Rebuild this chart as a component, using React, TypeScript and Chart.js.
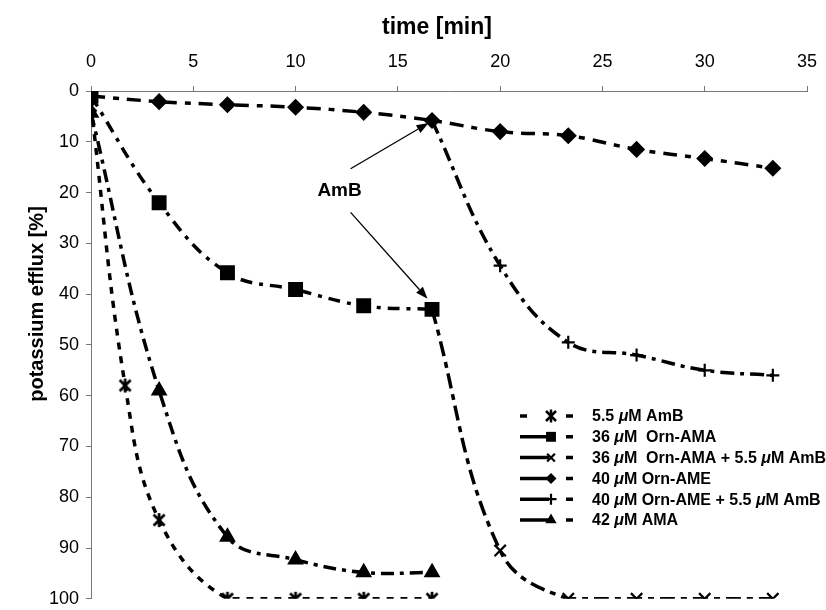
import React, { useEffect, useRef } from "react";
import { Chart, registerables } from "chart.js";

Chart.register(...registerables);

// ---------- data ----------
const xTitle = "time [min]";
const yTitle = "potassium efflux [%]";
const xTickValues = [0, 5, 10, 15, 20, 25, 30, 35];
const yTickValues = [0, 10, 20, 30, 40, 50, 60, 70, 80, 90, 100];

const seriesNames = [
  "5.5 μM AmB",
  "36 μM  Orn-AMA",
  "36 μM  Orn-AMA + 5.5 μM AmB",
  "40 μM Orn-AME",
  "40 μM Orn-AME + 5.5 μM AmB",
  "42 μM AMA",
];

const tAmB = [0, 1.67, 3.33, 6.67, 10, 13.33, 16.67];
const vAmB = [3, 58, 84.5, 100, 100, 100, 100];

const tOrnAMA = [0, 3.33, 6.67, 10, 13.33, 16.67];
const vOrnAMA = [1, 22, 35.8, 39.1, 42.3, 43];

const tOrnAMAAmB = [16.67, 20, 23.33, 26.67, 30, 33.33];
const vOrnAMAAmB = [43, 90.5, 100, 100, 100, 100];

const tOrnAME = [0, 3.33, 6.67, 10, 13.33, 16.67, 20, 23.33, 26.67, 30, 33.33];
const vOrnAME = [1, 2.1, 2.7, 3.2, 4.2, 5.8, 8, 8.8, 11.5, 13.3, 15.2];

const tOrnAMEAmB = [16.67, 20, 23.33, 26.67, 30, 33.33];
const vOrnAMEAmB = [5.8, 34.4, 49.5, 52, 55, 56];

const tAMA = [0, 3.33, 6.67, 10, 13.33, 16.67];
const vAMA = [4.3, 59, 87.8, 92.3, 94.8, 94.8];

// annotation: label "AmB" with two arrows (data coordinates)
const annotationText = "AmB";
const annotationLabel = { x: 12.15, y: 19.6 };
const annotationArrows = [
  { x1: 12.69, y1: 15.3, x2: 16.5, y2: 6.3 },
  { x1: 12.69, y1: 23.9, x2: 16.45, y2: 40.9 },
];

// ---------- styling ----------
const FONT = '"Liberation Sans", Arial, Helvetica, sans-serif';
const dashes = [
  [7, 7],
  [12, 7, 4, 7],
  [15, 6, 6, 6],
  [14, 8, 6, 8],
  [14, 6, 4, 6],
  [13, 6, 4, 6],
];
const markers = ["asterisk", "rect", "crossRot", "rectRot", "cross", "triangle"];
const markerRadius = [7, 9, 8, 7, 6.5, 7.5];

function makeAsterisk(): HTMLCanvasElement {
  const c = document.createElement("canvas");
  c.width = 16;
  c.height = 16;
  const g = c.getContext("2d")!;
  g.strokeStyle = "#000";
  g.lineWidth = 2.7;
  g.beginPath();
  g.moveTo(2.5, 2.5);
  g.lineTo(13.5, 13.5);
  g.moveTo(13.5, 2.5);
  g.lineTo(2.5, 13.5);
  g.moveTo(8, 1);
  g.lineTo(8, 15);
  g.stroke();
  return c;
}

function drawMarker(ctx: CanvasRenderingContext2D, style: string, x: number, y: number, r: number) {
  ctx.save();
  ctx.fillStyle = "#000";
  ctx.strokeStyle = "#000";
  ctx.lineWidth = 2.2;
  ctx.setLineDash([]);
  ctx.beginPath();
  if (style === "rect") {
    const s = r * Math.SQRT1_2;
    ctx.rect(x - s, y - s, 2 * s, 2 * s);
    ctx.fill();
  } else if (style === "rectRot") {
    ctx.moveTo(x, y - r);
    ctx.lineTo(x + r, y);
    ctx.lineTo(x, y + r);
    ctx.lineTo(x - r, y);
    ctx.closePath();
    ctx.fill();
  } else if (style === "triangle") {
    ctx.moveTo(x, y - r);
    ctx.lineTo(x + r * 0.866, y + r * 0.5);
    ctx.lineTo(x - r * 0.866, y + r * 0.5);
    ctx.closePath();
    ctx.fill();
  } else if (style === "cross") {
    ctx.moveTo(x - r, y);
    ctx.lineTo(x + r, y);
    ctx.moveTo(x, y - r);
    ctx.lineTo(x, y + r);
    ctx.stroke();
  } else if (style === "crossRot") {
    const s = r * Math.SQRT1_2;
    ctx.moveTo(x - s, y - s);
    ctx.lineTo(x + s, y + s);
    ctx.moveTo(x + s, y - s);
    ctx.lineTo(x - s, y + s);
    ctx.stroke();
  } else if (style === "asterisk") {
    ctx.lineWidth = 2.5;
    ctx.moveTo(x - 5, y - 5);
    ctx.lineTo(x + 5, y + 5);
    ctx.moveTo(x + 5, y - 5);
    ctx.lineTo(x - 5, y + 5);
    ctx.moveTo(x, y - 6.5);
    ctx.lineTo(x, y + 6.5);
    ctx.stroke();
  }
  ctx.restore();
}

function drawRich(ctx: CanvasRenderingContext2D, text: string, x: number, y: number, size: number) {
  const parts = text.split("μ");
  let cx = x;
  parts.forEach((p, i) => {
    ctx.font = `bold ${size}px ${FONT}`;
    ctx.fillText(p, cx, y);
    cx += ctx.measureText(p).width;
    if (i < parts.length - 1) {
      ctx.font = `italic bold ${size}px ${FONT}`;
      ctx.fillText("μ", cx, y);
      cx += ctx.measureText("μ").width;
    }
  });
}

function drawArrow(ctx: CanvasRenderingContext2D, x1: number, y1: number, x2: number, y2: number) {
  const ang = Math.atan2(y2 - y1, x2 - x1);
  const head = 12;
  const half = 4.5;
  const bx = x2 - head * Math.cos(ang);
  const by = y2 - head * Math.sin(ang);
  ctx.beginPath();
  ctx.moveTo(x1, y1);
  ctx.lineTo(bx, by);
  ctx.stroke();
  ctx.beginPath();
  ctx.moveTo(x2, y2);
  ctx.lineTo(bx + half * Math.sin(ang), by - half * Math.cos(ang));
  ctx.lineTo(bx - half * Math.sin(ang), by + half * Math.cos(ang));
  ctx.closePath();
  ctx.fill();
}

const overlayPlugin = {
  id: "overlay",
  afterDraw(chart: any) {
    const ctx: CanvasRenderingContext2D = chart.ctx;
    const xs = chart.scales.x;
    const ys = chart.scales.y;
    ctx.save();
    ctx.fillStyle = "#000";
    ctx.strokeStyle = "#000";

    // axis titles
    ctx.font = `bold 23px ${FONT}`;
    ctx.textAlign = "center";
    ctx.textBaseline = "alphabetic";
    ctx.fillText(xTitle, 437, 34);
    ctx.save();
    ctx.translate(43, 304);
    ctx.rotate(-Math.PI / 2);
    ctx.font = `bold 20px ${FONT}`;
    ctx.fillText(yTitle, 0, 0);
    ctx.restore();

    // annotation
    ctx.font = `bold 19px ${FONT}`;
    ctx.textAlign = "center";
    ctx.textBaseline = "middle";
    ctx.fillText(annotationText, xs.getPixelForValue(annotationLabel.x), ys.getPixelForValue(annotationLabel.y));
    ctx.lineWidth = 1.3;
    annotationArrows.forEach((a) => {
      drawArrow(
        ctx,
        xs.getPixelForValue(a.x1),
        ys.getPixelForValue(a.y1),
        xs.getPixelForValue(a.x2),
        ys.getPixelForValue(a.y2)
      );
    });

    // legend
    ctx.textAlign = "left";
    ctx.textBaseline = "middle";
    seriesNames.forEach((name, i) => {
      const y = 416 + i * 20.8;
      ctx.lineWidth = 3.5;
      ctx.lineCap = "butt";
      ctx.setLineDash([]);
      const segs = i === 0 ? [[520, 527], [566, 573]] : [[520, 549], [566, 573]];
      ctx.beginPath();
      segs.forEach((s) => {
        ctx.moveTo(s[0], y);
        ctx.lineTo(s[1], y);
      });
      ctx.stroke();
      drawMarker(ctx, markers[i], 551, y, i === 1 ? 7 : i === 3 ? 5.5 : i === 5 ? 6.5 : 5.5);
      drawRich(ctx, name, 592, y + 1, 16);
    });
    ctx.restore();
  },
};

function toPts(t: number[], v: number[]) {
  return t.map((x, i) => ({ x, y: v[i] }));
}

export default function App() {
  const ref = useRef<HTMLCanvasElement>(null);
  useEffect(() => {
    if (!ref.current) return;
    const asterisk = makeAsterisk();
    const seriesData = [
      toPts(tAmB, vAmB),
      toPts(tOrnAMA, vOrnAMA),
      toPts(tOrnAMAAmB, vOrnAMAAmB),
      toPts(tOrnAME, vOrnAME),
      toPts(tOrnAMEAmB, vOrnAMEAmB),
      toPts(tAMA, vAMA),
    ];
    const datasets = seriesData.map((d, i) => ({
      label: seriesNames[i],
      data: d,
      borderColor: "#000",
      backgroundColor: "#000",
      borderWidth: 3.5,
      borderDash: dashes[i],
      tension: 0.4,
      pointStyle: markers[i] === "asterisk" ? asterisk : markers[i],
      pointRadius: markerRadius[i],
      pointBorderWidth: 2.2,
      pointBackgroundColor: "#000",
      pointBorderColor: "#000",
      fill: false,
    }));
    const chart = new Chart(ref.current, {
      type: "line",
      data: { datasets },
      plugins: [overlayPlugin],
      options: {
        animation: false,
        responsive: false,
        layout: { padding: { left: 0, top: 0, right: 19, bottom: 8 } },
        plugins: { legend: { display: false }, tooltip: { enabled: false } },
        scales: {
          x: {
            type: "linear",
            position: "top",
            min: 0,
            max: 35,
            afterBuildTicks: (s: any) => {
              s.ticks = xTickValues.map((v) => ({ value: v }));
            },
            afterFit: (s: any) => {
              s.height = 91;
              s.paddingLeft = 0;
              s.paddingRight = 0;
            },
            ticks: {
              color: "#000",
              padding: 13,
              font: { family: FONT, size: 18, lineHeight: 1.2 },
            },
            grid: { drawOnChartArea: false, drawTicks: true, tickLength: 5, color: "#777" },
            border: { display: true, color: "#777", width: 1 },
          },
          y: {
            type: "linear",
            reverse: true,
            min: 0,
            max: 100,
            afterBuildTicks: (s: any) => {
              s.ticks = yTickValues.map((v) => ({ value: v }));
            },
            afterFit: (s: any) => {
              s.width = 91;
              s.paddingTop = 0;
              s.paddingBottom = 0;
            },
            ticks: {
              color: "#000",
              padding: 7,
              font: { family: FONT, size: 18, lineHeight: 1.2 },
            },
            grid: { drawOnChartArea: false, drawTicks: true, tickLength: 5, color: "#777" },
            border: { display: true, color: "#777", width: 1 },
          },
        },
      },
    } as any);
    return () => chart.destroy();
  }, []);
  return (
    <div style={{ position: "absolute", left: 0, top: 0, width: 826, height: 610, background: "#fff" }}>
      <canvas ref={ref} width={826} height={610} style={{ display: "block" }} />
    </div>
  );
}
